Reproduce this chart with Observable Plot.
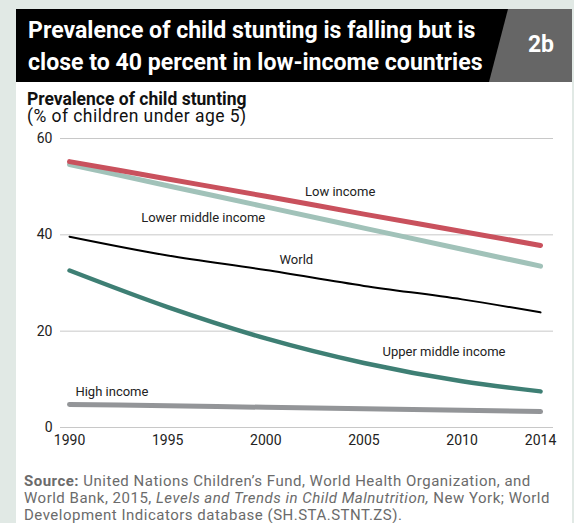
<!DOCTYPE html>
<html>
<head>
<meta charset="utf-8">
<script src="https://cdn.jsdelivr.net/npm/d3@7"></script>
<script src="https://cdn.jsdelivr.net/npm/@observablehq/plot@0.6"></script>
<style>
  html, body { margin: 0; padding: 0; }
  body { width: 574px; height: 523px; background: #e1e9e5; position: relative; overflow: hidden; font-family: "Roboto", sans-serif; }
  #panel { position: absolute; left: 16px; top: 9px; width: 556px; height: 520px; background: #fff; }
  #bar { position: absolute; left: 16px; top: 9px; width: 556px; height: 73px; background: #000; }
  #tag { position: absolute; left: 473px; top: 9px; width: 99px; height: 73px; background: #666; clip-path: polygon(35px 0, 99px 0, 99px 73px, 16px 73px); }
  #tagtext { position: absolute; left: 516px; top: 31px; width: 50px; text-align: center; color: #fff; font: bold 23px "Roboto", sans-serif; }
  .title { position: absolute; left: 28px; color: #fff; font-weight: bold; font-size: 23.1px; white-space: nowrap; font-family: "Roboto", sans-serif; }
  .sub { position: absolute; left: 27px; color: #111; font-size: 17.5px; line-height: 17px; white-space: nowrap; font-family: "Roboto", sans-serif; }
  #chart { position: absolute; left: 0; top: 125px; }
  .src { position: absolute; left: 24px; color: #6b6b6b; font-size: 15px; letter-spacing: 0.5px; line-height: 17px; white-space: pre; font-family: "Roboto", sans-serif; }
</style>
</head>
<body>
<div id="panel"></div>
<div id="bar"></div>
<div id="tag"></div>
<div id="tagtext">2b</div>
<div class="title" style="top:17px">Prevalence of child stunting is falling but is</div>
<div class="title" style="top:49px">close to 40 percent in low-income countries</div>
<div class="sub" style="top:91px;font-weight:bold">Prevalence of child stunting</div>
<div class="sub" style="top:108px;letter-spacing:0.45px">(% of children under age 5)</div>
<div id="chart"></div>
<div class="src" style="top:473px"><b>Source:</b><span> United Nations Children’s Fund, World Health Organization, and</span></div>
<div class="src" style="top:490px"><span>World Bank, 2015, </span><i>Levels and Trends in Child Malnutrition,</i><span> New York; World</span></div>
<div class="src" style="top:507px"><span>Development Indicators database (SH.STA.STNT.ZS).</span></div>
<script>
const years = [1990, 1995, 2000, 2005, 2010, 2014];
const lowIncome = [55.2, 51.6, 48.0, 44.3, 40.7, 37.8];
const lowerMiddle = [54.6, 50.2, 45.8, 41.4, 37.0, 33.5];
const world = [39.6, 35.7, 32.7, 29.4, 26.6, 23.9];
const upperMiddle = [32.6, 25.0, 18.5, 13.4, 9.6, 7.5];
const highIncome = [4.8, 4.5, 4.2, 3.9, 3.6, 3.3];
const yTicks = [0, 20, 40, 60];
const xTicks = [1990, 1995, 2000, 2005, 2010, 2014];

const seriesNames = ["High income", "Upper middle income", "World", "Lower middle income", "Low income"];
const seriesValues = [highIncome, upperMiddle, world, lowerMiddle, lowIncome];
const seriesColors = ["#939598", "#3e7f74", "#000000", "#a1c2b9", "#c9515d"];
const seriesWidths = [5, 4.5, 2, 5, 5];

const labelNames = ["Low income", "Lower middle income", "World", "Upper middle income", "High income"];
const labelX = [2002.0, 1993.65, 2000.7, 2005.95, 1990.3];
const labelY = [49.0, 43.6, 34.9, 15.8, 7.5];

const marks = [
  Plot.ruleY(yTicks, {stroke: "#c8c8c8", strokeWidth: 1})
];
seriesNames.forEach((name, i) => {
  const rows = years.map((yr, j) => ({year: yr, value: seriesValues[i][j]}));
  marks.push(Plot.line(rows, {x: "year", y: "value", stroke: seriesColors[i], strokeWidth: seriesWidths[i], strokeLinecap: "round", strokeLinejoin: "round", curve: "monotone-x"}));
});
const labels = labelNames.map((t, i) => ({t, x: labelX[i], y: labelY[i]}));
marks.push(Plot.text(labels, {x: "x", y: "y", text: "t", textAnchor: "start", fill: "#222", fontSize: 13}));

const chart = Plot.plot({
  width: 574,
  height: 330,
  marginLeft: 60,
  marginRight: 21,
  marginTop: 13,
  marginBottom: 28,
  style: {background: "transparent", fontFamily: "Roboto, sans-serif", fontSize: "14px", color: "#222"},
  x: {domain: [1989.54, 2014.66], ticks: xTicks, tickFormat: d => String(d), tickSize: 0, tickPadding: 8, label: null},
  y: {domain: [0, 60], ticks: yTicks, tickSize: 0, tickPadding: 8, label: null},
  marks
});
document.getElementById("chart").appendChild(chart);
</script>
</body>
</html>
